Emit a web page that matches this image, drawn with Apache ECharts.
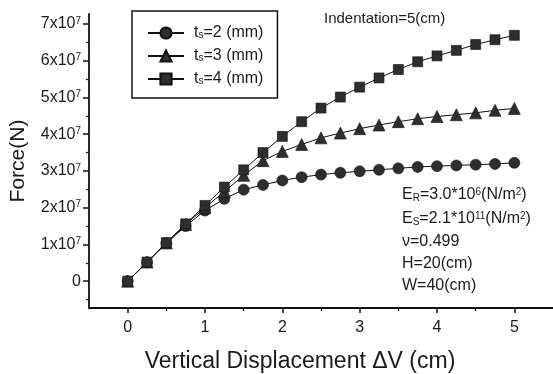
<!DOCTYPE html>
<html>
<head>
<meta charset="utf-8">
<script src="https://cdn.jsdelivr.net/npm/echarts@6/dist/echarts.min.js"></script>
<style>
html,body{margin:0;padding:0;background:#fff;}
#chart{width:553px;height:374px;}
</style>
</head>
<body>
<div id="chart"></div>
<script>
// Displacement ΔV (cm)
var displacement = [0, 0.25, 0.5, 0.75, 1, 1.25, 1.5, 1.75, 2, 2.25, 2.5, 2.75, 3, 3.25, 3.5, 3.75, 4, 4.25, 4.5, 4.75, 5];
// Force in units of 1x10^7 N
var force_ts2 = [0, 0.51, 1.03, 1.50, 1.92, 2.24, 2.49, 2.62, 2.74, 2.83, 2.90, 2.95, 2.99, 3.03, 3.07, 3.11, 3.13, 3.15, 3.17, 3.19, 3.22];
var force_ts3 = [0, 0.52, 1.04, 1.54, 2.00, 2.44, 2.88, 3.28, 3.53, 3.72, 3.90, 4.03, 4.15, 4.25, 4.34, 4.42, 4.48, 4.53, 4.58, 4.65, 4.70];
var force_ts4 = [0, 0.52, 1.05, 1.56, 2.06, 2.56, 3.03, 3.50, 3.94, 4.34, 4.71, 5.01, 5.28, 5.53, 5.76, 5.97, 6.13, 6.28, 6.44, 6.57, 6.69];
var seriesNames = ['t_s=2 (mm)', 't_s=3 (mm)', 't_s=4 (mm)'];
// tick values
var xTicks = [0, 1, 2, 3, 4, 5];
var xMinorTicks = [0.5, 1.5, 2.5, 3.5, 4.5];
var yTicks = [0, 1, 2, 3, 4, 5, 6, 7];
var yMinorTicks = [-0.5, 0.5, 1.5, 2.5, 3.5, 4.5, 5.5, 6.5];
var annotation = 'Indentation=5(cm)';
var paramLines = [
  'E{sub|R}=3.0*10{sup|6}(N/m{sup|2})',
  'E{sub|S}=2.1*10{sup|11}(N/m{sup|2})',
  '\u03bd=0.499',
  'H=20(cm)',
  'W=40(cm)'
];

var FONT = "'Liberation Sans', Arial, Helvetica, sans-serif";
var INK = '#1a1a1a';
var chart = echarts.init(document.getElementById('chart'), null, {renderer: 'canvas'});

function pairs(ys) { return displacement.map(function (x, i) { return [x, ys[i]]; }); }

var supSub = {
  sub: {fontSize: 10, fontFamily: FONT, color: INK, verticalAlign: 'bottom', lineHeight: 10},
  sup: {fontSize: 10, fontFamily: FONT, color: INK, verticalAlign: 'top', lineHeight: 10}
};

var xMin = -0.5, xMax = 5.5, yMin = -0.73, yMax = 7.27;

var paramY = [195, 219, 242, 264, 286];
var graphics = [{
  type: 'text', left: 324, top: 11,
  style: {text: annotation, font: '15px ' + FONT, fill: INK}
}];
paramLines.forEach(function (t, i) {
  graphics.push({
    type: 'text', x: 402, y: paramY[i],
    style: {
      text: t, fontSize: 16, fontFamily: FONT, fill: INK, verticalAlign: 'middle',
      rich: {
        sub: {fontSize: 10, fontFamily: FONT, fill: INK, verticalAlign: 'bottom', lineHeight: 10},
        sup: {fontSize: 10, fontFamily: FONT, fill: INK, verticalAlign: 'top', lineHeight: 10}
      }
    }
  });
});

var markerStyle = {color: '#2e2e2e', borderColor: '#111', borderWidth: 0.6};
var lineStyle = {color: '#111', width: 1};

var option = {
  animation: false,
  backgroundColor: '#fff',
  grid: {left: 89, right: 0, top: 14, bottom: 66, containLabel: false, outerBoundsMode: 'none'},
  legend: {
    orient: 'vertical', left: 132, top: 11,
    padding: [14, 14, 11, 15],
    itemWidth: 36, itemHeight: 14, itemGap: 7,
    borderColor: '#111', borderWidth: 1.5,
    data: seriesNames,
    formatter: function (n) { return n.replace('t_s', 't{sub|s}'); },
    textStyle: {
      fontSize: 16, fontFamily: FONT, color: INK, lineHeight: 14, padding: [0, 0, 0, 5],
      rich: supSub
    }
  },
  xAxis: [{
    type: 'value', min: xMin, max: xMax,
    name: 'Vertical Displacement \u0394V (cm)', nameLocation: 'middle', nameGap: 42,
    nameTextStyle: {fontSize: 23, fontFamily: FONT, color: INK, padding: [0, 42, 0, 0]},
    axisLine: {show: true, onZero: false, lineStyle: {color: '#111', width: 1.8}},
    axisTick: {show: true, length: 5, customValues: xTicks, lineStyle: {color: '#111', width: 1.5}},
    axisLabel: {customValues: xTicks, margin: 12, fontSize: 16, fontFamily: FONT, color: INK},
    splitLine: {show: false}
  }, {
    type: 'value', min: xMin, max: xMax, position: 'bottom',
    axisLine: {show: false, onZero: false},
    axisTick: {show: true, length: 3, customValues: xMinorTicks, lineStyle: {color: '#111', width: 1.2}},
    axisLabel: {show: false},
    splitLine: {show: false}
  }],
  yAxis: [{
    type: 'value', min: yMin, max: yMax, position: 'left',
    name: 'Force(N)', nameLocation: 'middle', nameGap: 60,
    nameTextStyle: {fontSize: 21, fontFamily: FONT, color: INK},
    axisLine: {show: true, onZero: false, lineStyle: {color: '#111', width: 1.8}},
    axisTick: {show: true, length: 6, customValues: yTicks, lineStyle: {color: '#111', width: 1.5}},
    axisLabel: {
      customValues: yTicks, margin: 8, fontSize: 16, fontFamily: FONT, color: INK,
      formatter: function (v) { return v === 0 ? '0' : v + 'x10{sup|7}'; },
      rich: supSub
    },
    splitLine: {show: false}
  }, {
    type: 'value', min: yMin, max: yMax, position: 'left',
    axisLine: {show: false, onZero: false},
    axisTick: {show: true, length: 3, customValues: yMinorTicks, lineStyle: {color: '#111', width: 1.2}},
    axisLabel: {show: false},
    splitLine: {show: false}
  }],
  graphic: graphics,
  series: [{
    name: seriesNames[0], type: 'line', data: pairs(force_ts2),
    symbol: 'circle', symbolSize: 11, itemStyle: markerStyle, lineStyle: lineStyle, z: 2
  }, {
    name: seriesNames[1], type: 'line', data: pairs(force_ts3),
    symbol: 'triangle', symbolSize: 12, itemStyle: markerStyle, lineStyle: lineStyle, z: 3
  }, {
    name: seriesNames[2], type: 'line', data: pairs(force_ts4),
    symbol: 'rect', symbolSize: 10, itemStyle: markerStyle, lineStyle: lineStyle, z: 4
  }]
};
chart.setOption(option);
</script>
</body>
</html>
